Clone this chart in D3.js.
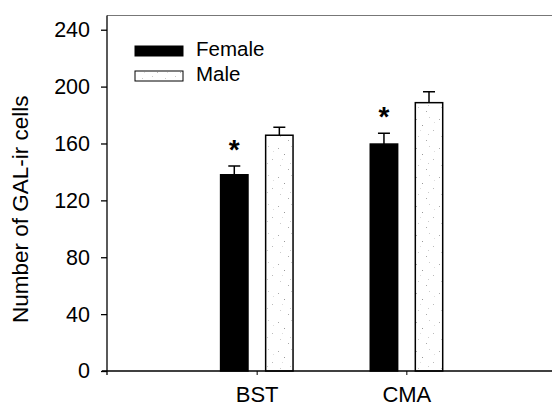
<!DOCTYPE html>
<html>
<head>
<meta charset="utf-8">
<script src="https://cdn.jsdelivr.net/npm/d3@7"></script>
<style>
  body { margin: 0; background: #fff; }
  svg { display: block; font-family: "Liberation Sans", Arial, sans-serif; }
</style>
</head>
<body>
<div id="chart"></div>
<script>
// data
var categories = ["BST", "CMA"];
var seriesNames = ["Female", "Male"];
var femaleMeans = [138, 159.6];
var femaleErr = [6.2, 7.6];
var maleMeans = [165.8, 188.7];
var maleErr = [5.6, 7.7];
var femaleSignificant = [true, true];
var yTicks = [0, 40, 80, 120, 160, 200, 240];

var W = 552, H = 406;
var margin = { top: 15.5, left: 107, bottom: 35 };

var svg = d3.select("#chart").append("svg")
	.attr("width", W)
	.attr("height", H);

// stipple fill for the male bars
var pat = svg.append("defs").append("pattern")
	.attr("id", "stipple")
	.attr("patternUnits", "userSpaceOnUse")
	.attr("width", 23).attr("height", 29);
pat.append("rect").attr("width", 23).attr("height", 29).attr("fill", "#fff");
[[2, 3, "#aaa"], [15, 1, "#ccc"], [8, 9, "#999"], [19, 14, "#bbb"], [4, 20, "#ccc"],
 [12, 24, "#aaa"], [20, 6, "#ddd"], [6, 14, "#ddd"], [14, 18, "#ccc"]].forEach(function(d) {
	pat.append("rect").attr("x", d[0]).attr("y", d[1]).attr("width", 1).attr("height", 1).attr("fill", d[2]);
});

var x = d3.scalePoint()
	.domain(categories)
	.range([margin.left, 556])
	.padding(1);
var step = x.step();

var y = d3.scaleLinear()
	.domain([0, 250])
	.range([H - margin.bottom, margin.top]);

// frame top
svg.append("line")
	.attr("x1", margin.left).attr("x2", W)
	.attr("y1", y(250)).attr("y2", y(250))
	.attr("stroke", "#777").attr("stroke-width", 1);

var bw = step * 0.183;
var series = [
	{ name: "Female", means: femaleMeans, err: femaleErr, off: -0.241, fill: "#000" },
	{ name: "Male", means: maleMeans, err: maleErr, off: 0.06, fill: "url(#stipple)" }
];

series.forEach(function(s) {
	var g = svg.append("g").attr("class", "series-" + s.name);
	var data = categories.map(function(c, i) { return { cat: c, v: s.means[i], e: s.err[i] }; });

	// error bars (upper only)
	g.selectAll(".err").data(data).enter().append("path")
		.attr("d", function(d) {
			var cx = x(d.cat) + s.off * step + bw / 2;
			return "M" + cx + "," + y(d.v) + "V" + y(d.v + d.e) + "M" + (cx - 6) + "," + y(d.v + d.e) + "H" + (cx + 6);
		})
		.attr("stroke", "#000").attr("stroke-width", 1.5).attr("fill", "none");

	g.selectAll(".bar").data(data).enter().append("rect")
		.attr("x", function(d) { return x(d.cat) + s.off * step; })
		.attr("y", function(d) { return y(d.v); })
		.attr("width", bw)
		.attr("height", function(d) { return y(0) - y(d.v); })
		.attr("fill", s.fill)
		.attr("stroke", "#000").attr("stroke-width", 1.5);
});

// significance stars
svg.selectAll(".star").data(categories.filter(function(c, i) { return femaleSignificant[i]; })).enter()
	.append("text")
	.attr("x", function(c) { return x(c) - 0.241 * step + bw / 2; })
	.attr("y", function(c) { var i = categories.indexOf(c); return y(femaleMeans[i] + femaleErr[i]) - 7; })
	.attr("text-anchor", "middle")
	.attr("font-size", 28)
	.attr("font-weight", "bold")
	.text("*");

// y axis
var yAxis = svg.append("g")
	.attr("transform", "translate(" + margin.left + ",0)")
	.call(d3.axisLeft(y).tickValues(yTicks).tickSize(6).tickSizeOuter(0).tickPadding(11));
yAxis.select(".domain").attr("stroke", "#000").attr("stroke-width", 1.3)
	.attr("d", "M0," + (y(0) + 4) + "V" + y(250));
yAxis.selectAll(".tick line").attr("stroke", "#000").attr("stroke-width", 1.3);
yAxis.selectAll(".tick text").attr("font-size", 21.5).attr("fill", "#000")
	.attr("font-family", "Liberation Sans, Arial, sans-serif");

// x axis
var xAxis = svg.append("g")
	.attr("transform", "translate(0," + y(0) + ")")
	.call(d3.axisBottom(x).tickSize(4).tickSizeOuter(0).tickPadding(11));
xAxis.select(".domain").attr("stroke", "#000").attr("stroke-width", 1.3)
	.attr("d", "M" + (margin.left - 5) + ",0H" + W);
xAxis.selectAll(".tick line").attr("stroke", "#000");
xAxis.selectAll(".tick text").attr("font-size", 22).attr("fill", "#000")
	.attr("font-family", "Liberation Sans, Arial, sans-serif");

// y label
svg.append("text")
	.attr("transform", "translate(28," + ((y(0) + y(250)) / 2 + 16) + ") rotate(-90)")
	.attr("text-anchor", "middle")
	.attr("font-size", 22.5)
	.text("Number of GAL-ir cells");

// legend
var legend = svg.append("g").attr("class", "legend");
var legendRows = seriesNames.map(function(n, i) { return { name: n, fill: series[i].fill, row: i }; });
legend.selectAll("rect").data(legendRows).enter().append("rect")
	.attr("x", 135).attr("y", function(d) { return 46 + d.row * 25; })
	.attr("width", 48).attr("height", 10)
	.attr("fill", function(d) { return d.fill; })
	.attr("stroke", "#000").attr("stroke-width", 1);
legend.selectAll("text").data(legendRows).enter().append("text")
	.attr("x", 196).attr("y", function(d) { return 56 + d.row * 25; })
	.attr("font-size", 20.5)
	.text(function(d) { return d.name; });
</script>
</body>
</html>
